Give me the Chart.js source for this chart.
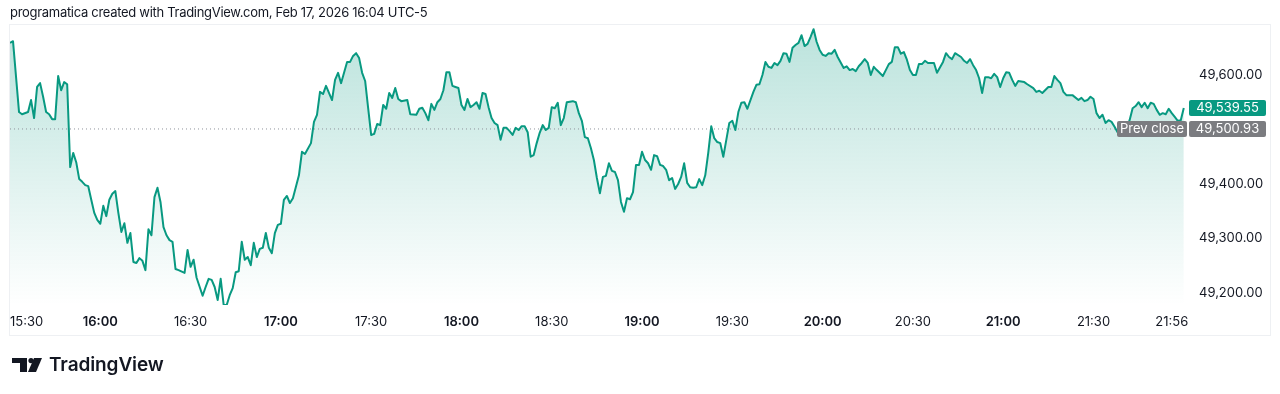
<!DOCTYPE html>
<html>
<head>
<meta charset="utf-8">
<title>DJI intraday - TradingView</title>
<script src="https://cdn.jsdelivr.net/npm/chart.js@4.4.1/dist/chart.umd.min.js"></script>
<style>
    html, body { margin: 0; padding: 0; background: #fff; }
    body { width: 1280px; height: 394px; position: relative; overflow: hidden; font-family: Inter, "Noto Sans", sans-serif; color: #131722; }
    #wrap { position: absolute; left: 0; top: 0; width: 1280px; height: 394px; }
    #header { position: absolute; left: 10px; top: 3px; font-size: 13px; line-height: 18px; letter-spacing: -0.3px; white-space: nowrap; }
    #logoIcon { position: absolute; left: 12px; top: 358px; }
    #logoText { position: absolute; left: 49px; top: 355px; font-size: 19px; line-height: 19px; font-weight: 600; letter-spacing: -0.1px; white-space: nowrap; }
</style>
</head>
<body>
<div id="wrap"><canvas id="chart"></canvas></div>
<div id="header">programatica created with TradingView.com, Feb 17, 2026 16:04 UTC-5</div>
<svg id="logoIcon" width="30" height="14" viewBox="0 0 30 14">
    <path d="M0 0 H15 V14 H8 V5 H0 Z" fill="#131722"/>
    <circle cx="19" cy="2.6" r="2.6" fill="#131722"/>
    <path d="M22 0 H30 L24 14 H16 Z" fill="#131722"/>
</svg>
<div id="logoText">TradingView</div>

<script>
// === DATA ===
// minutes after 15:30
const minutes = [
    0, 1, 3, 4, 6, 7, 8, 9, 10, 11, 12, 13, 14, 15, 16, 17, 18, 19, 20, 21, 22, 23, 24, 25, 26, 27, 28, 29,
    30, 31, 32, 33, 34, 35, 36, 37, 38, 39, 40, 41, 42, 43, 44, 45, 46, 47, 48, 49, 50, 51, 52, 53, 54, 55, 56, 58, 59,
    60, 61, 62, 64, 65, 66, 67, 68, 69, 70, 71, 72, 73, 74, 75, 76, 77, 78, 79, 80, 81, 82, 83, 84, 85, 86, 87, 88, 89,
    90, 91, 92, 93, 94, 96, 97, 98, 100, 101, 102, 103, 104, 105, 107, 108, 109, 110, 112, 113, 114, 115, 116, 117, 118, 119,
    120, 121, 122, 123, 124, 125, 126, 127, 128, 129, 130, 132, 133, 135, 136, 137, 138, 139, 140, 141, 142, 143, 144, 145, 146, 147, 148, 149,
    150, 151, 152, 153, 154, 155, 156, 157, 158, 159, 160, 161, 162, 163, 164, 165, 166, 167, 168, 169, 170, 171, 172, 173, 174, 175, 176, 177, 178, 179,
    180, 181, 182, 183, 184, 185, 187, 188, 189, 190, 191, 192, 193, 194, 195, 196, 197, 198, 199, 200, 201, 202, 203, 204, 205, 206, 207, 208, 209,
    210, 211, 212, 213, 214, 215, 216, 217, 218, 219, 220, 221, 222, 223, 224, 225, 226, 227, 228, 229, 230, 231, 232, 233, 234, 235, 236, 237, 238, 239,
    240, 241, 242, 243, 244, 245, 247, 248, 249, 250, 251, 252, 253, 254, 255, 256, 257, 258, 259, 260, 261, 262, 263, 264, 265, 266, 267, 268, 269,
    270, 271, 272, 273, 274, 275, 277, 278, 279, 280, 281, 282, 283, 284, 285, 286, 287, 288, 290, 291, 292, 293, 294, 295, 296, 297, 298, 299,
    300, 301, 302, 303, 304, 305, 307, 308, 310, 311, 312, 313, 314, 316, 317, 318, 319, 320, 321, 322, 323, 324, 325, 326, 327, 328, 329,
    330, 331, 332, 333, 334, 335, 337, 338, 340, 341, 342, 343, 345, 346, 347, 348, 349, 350, 351, 353, 355, 356, 357, 358, 359,
    360, 361, 362, 363, 364, 365, 366, 367, 368, 369, 371, 372, 373, 374, 375, 376, 377, 378, 379, 380, 381, 382, 383, 384, 385, 386, 387, 388, 389, 390
];
const prices = [
    49659, 49662, 49532, 49528, 49532, 49554, 49521, 49578, 49585, 49560, 49532, 49528, 49519, 49519, 49598, 49572, 49587, 49583, 49431, 49457, 49440, 49409, 49404, 49398, 49396, 49371, 49347, 49334,
    49327, 49360, 49341, 49371, 49382, 49387, 49347, 49312, 49328, 49292, 49310, 49257, 49255, 49264, 49259, 49242, 49317, 49306, 49376, 49393, 49367, 49321, 49306, 49297, 49294, 49244, 49242, 49237, 49279,
    49248, 49261, 49228, 49195, 49211, 49226, 49224, 49211, 49187, 49226, 49178, 49178, 49196, 49209, 49238, 49240, 49294, 49261, 49266, 49251, 49292, 49266, 49281, 49283, 49310, 49283, 49273, 49310, 49325,
    49327, 49371, 49378, 49365, 49374, 49416, 49459, 49455, 49475, 49514, 49527, 49569, 49565, 49580, 49554, 49591, 49604, 49585, 49624, 49624, 49635, 49640, 49631, 49604, 49589, 49539,
    49490, 49492, 49510, 49508, 49545, 49538, 49567, 49558, 49576, 49556, 49552, 49554, 49528, 49527, 49538, 49540, 49530, 49517, 49547, 49536, 49550, 49556, 49572, 49605, 49605, 49580, 49578, 49576,
    49545, 49536, 49556, 49541, 49545, 49550, 49538, 49567, 49565, 49541, 49521, 49512, 49508, 49481, 49503, 49503, 49497, 49490, 49503, 49499, 49506, 49506, 49495, 49450, 49453, 49475, 49494, 49508, 49499, 49503,
    49541, 49539, 49549, 49508, 49521, 49550, 49552, 49550, 49530, 49516, 49486, 49484, 49466, 49444, 49411, 49383, 49413, 49415, 49438, 49424, 49422, 49407, 49367, 49349, 49374, 49372, 49385, 49435, 49435,
    49459, 49444, 49438, 49426, 49453, 49451, 49435, 49433, 49426, 49407, 49411, 49391, 49400, 49413, 49438, 49402, 49394, 49393, 49394, 49409, 49398, 49416, 49457, 49506, 49484, 49477, 49475, 49450, 49481, 49512,
    49516, 49499, 49532, 49549, 49550, 49538, 49569, 49582, 49583, 49600, 49624, 49615, 49613, 49622, 49618, 49626, 49640, 49639, 49624, 49650, 49655, 49659, 49673, 49653, 49657, 49670, 49684, 49661, 49646,
    49637, 49635, 49640, 49639, 49646, 49633, 49613, 49616, 49609, 49611, 49607, 49616, 49622, 49629, 49622, 49600, 49615, 49609, 49598, 49609, 49620, 49624, 49651, 49651, 49639, 49642, 49628, 49609,
    49600, 49600, 49620, 49620, 49626, 49622, 49622, 49604, 49624, 49640, 49633, 49629, 49640, 49633, 49626, 49622, 49629, 49618, 49609, 49594, 49567, 49596, 49596, 49594, 49602, 49596, 49578,
    49594, 49605, 49604, 49591, 49580, 49589, 49587, 49583, 49576, 49569, 49571, 49567, 49578, 49578, 49598, 49591, 49585, 49569, 49563, 49563, 49554, 49558, 49552, 49554, 49560,
    49556, 49530, 49521, 49527, 49512, 49517, 49514, 49505, 49495, 49492, 49503, 49517, 49539, 49543, 49550, 49541, 49549, 49539, 49549, 49547, 49536, 49527, 49530, 49528, 49538, 49530, 49523, 49516, 49517, 49539.55
];

const PREV_CLOSE = 49500.93;
const LAST_PRICE = 49539.55;

const priceTicks = [49200, 49300, 49400, 49600];
const timeTicks = [0, 30, 60, 90, 120, 150, 180, 210, 240, 270, 300, 330, 360, 386];
const timeLabels = ["15:30", "16:00", "16:30", "17:00", "17:30", "18:00", "18:30", "19:00", "19:30", "20:00", "20:30", "21:00", "21:30", "21:56"];

// === CONFIG ===
const COLORS = {
    line: "#089981",
    text: "#131722",
    dots: "#8f929b",
    tagGreen: "#089981",
    tagGray: "#7b7c80",
    frame: "#eef0f3",
};
const FONT = "Inter, 'Noto Sans', sans-serif";

const fmt = (v) => v.toLocaleString("en-US", { minimumFractionDigits: 2, maximumFractionDigits: 2 });

// decorations: frame, time labels, price tags
const tvDecor = {
    id: "tvDecor",
    afterDraw(chart) {
        const { ctx, chartArea: area, scales } = chart;
        const x = scales.x;
        const y = scales.y;
        ctx.save();

        ctx.strokeStyle = COLORS.frame;
        ctx.lineWidth = 1;
        ctx.strokeRect(9.5, 24.5, 1261, 311);

        // time axis
        ctx.textBaseline = "middle";
        ctx.textAlign = "left";
        ctx.fillStyle = COLORS.text;
        timeTicks.forEach((m, i) => {
            const lbl = timeLabels[i];
            const bold = lbl.endsWith(":00");
            ctx.font = (bold ? "600 " : "400 ") + "13px " + FONT;
            const w = ctx.measureText(lbl).width;
            let px = x.getPixelForValue(m) - w / 2;
            if (px < area.left) px = area.left;
            ctx.fillText(lbl, px, 322);
        });

        // price tags
        const tag = (value, text, color, left, right) => {
            const py = Math.round(y.getPixelForValue(value));
            ctx.fillStyle = color;
            ctx.beginPath();
            ctx.roundRect(left, py - 8, right - left, 16, 2);
            ctx.fill();
            ctx.fillStyle = "#ffffff";
            ctx.font = "400 13px " + FONT;
            ctx.textAlign = "center";
            ctx.fillText(text, (left + right) / 2, py + 0.5);
        };
        tag(LAST_PRICE, fmt(LAST_PRICE), COLORS.tagGreen, 1189, 1266);
        tag(PREV_CLOSE, fmt(PREV_CLOSE), COLORS.tagGray, 1189, 1266);
        tag(PREV_CLOSE, "Prev close", COLORS.tagGray, 1117, 1187);

        ctx.restore();
    },
};

function areaGradient(context) {
    const chart = context.chart;
    const a = chart.chartArea;
    if (!a) return "rgba(8,153,129,0.15)";
    const g = chart.ctx.createLinearGradient(0, a.top, 0, a.bottom);
    g.addColorStop(0, "rgba(8,153,129,0.28)");
    g.addColorStop(1, "rgba(8,153,129,0.0)");
    return g;
}

Chart.defaults.font.family = FONT;
Chart.defaults.color = COLORS.text;

const canvas = document.getElementById("chart");
canvas.width = 1280;
canvas.height = 394;

new Chart(canvas.getContext("2d"), {
    type: "line",
    data: {
        datasets: [
            {
                label: "Price",
                data: minutes.map((m, i) => ({ x: m, y: prices[i] })),
                borderColor: COLORS.line,
                borderWidth: 2,
                backgroundColor: areaGradient,
                fill: "start",
                pointRadius: 0,
                tension: 0,
                borderJoinStyle: "round",
            },
            {
                label: "Prev close",
                data: [
                    { x: 0, y: PREV_CLOSE },
                    { x: 392, y: PREV_CLOSE },
                ],
                borderColor: COLORS.dots,
                borderWidth: 1,
                borderDash: [1, 3],
                pointRadius: 0,
                fill: false,
            },
        ],
    },
    options: {
        responsive: false,
        animation: false,
        events: [],
        layout: { padding: { left: 10, top: 25, right: 0, bottom: 89 } },
        plugins: {
            legend: { display: false },
            tooltip: { enabled: false },
            filler: { drawTime: "beforeDatasetsDraw" },
        },
        scales: {
            x: {
                type: "linear",
                display: false,
                min: 0,
                max: 391.4,
            },
            y: {
                position: "right",
                min: 49178,
                max: 49691.7,
                afterFit: (scale) => { scale.width = 92; },
                afterBuildTicks: (scale) => { scale.ticks = priceTicks.map((v) => ({ value: v })); },
                grid: { display: false, drawTicks: false },
                border: { display: false },
                ticks: {
                    padding: 11,
                    color: COLORS.text,
                    font: { size: 13 },
                    callback: (v) => fmt(v),
                },
            },
        },
    },
    plugins: [tvDecor],
});
</script>
</body>
</html>
